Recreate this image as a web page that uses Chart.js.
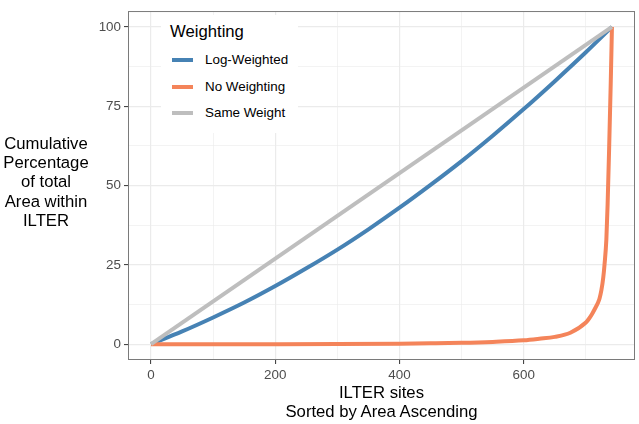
<!DOCTYPE html>
<html>
<head>
<meta charset="utf-8">
<script src="https://cdn.jsdelivr.net/npm/chart.js@4.4.0/dist/chart.umd.min.js"></script>
<style>
  body { margin: 0; background: #fff; }
  #wrap { position: relative; width: 639px; height: 424px; font-family: "Liberation Sans", Arial, sans-serif; }
  #ytitle { position: absolute; left: 0; top: 134px; width: 92px; text-align: center; font-size: 16.7px; line-height: 19.2px; color: #000; }
  #xtitle { position: absolute; left: 128px; top: 383px; width: 507px; text-align: center; font-size: 16.7px; line-height: 19px; color: #000; }
  #legend { position: absolute; left: 161px; top: 15px; width: 137px; height: 118px; background: #fff; }
  #legend .title { position: absolute; left: 9px; top: 7px; font-size: 16.7px; line-height: 20px; }
  #legend .item { position: absolute; left: 11px; height: 20px; font-size: 13.4px; line-height: 20px; }
  #legend .key { position: absolute; left: 0; top: 8px; width: 21px; height: 4px; }
  #legend .label { position: absolute; left: 33px; top: 0; white-space: nowrap; }
</style>
</head>
<body>
<div id="wrap">
  <canvas id="chart" width="639" height="424"></canvas>
  <div id="ytitle">Cumulative<br>Percentage<br>of total<br>Area within<br>ILTER</div>
  <div id="xtitle">ILTER sites<br>Sorted by Area Ascending</div>
  <div id="legend"></div>
</div>
<script>
// series values
const logX = [0, 50, 100, 150, 200, 250, 300, 350, 400, 450, 500, 550, 600, 650, 700, 742];
const logY = [0, 4.0, 8.4, 13.1, 18.3, 23.9, 29.8, 36.2, 43.0, 50.2, 57.7, 65.7, 74.1, 82.9, 92.0, 100];

const noX = [0, 100, 200, 300, 400, 450, 500, 550, 600, 625, 650, 675, 700, 705, 710, 715, 720, 722, 725, 728, 730, 733, 735, 737.5, 740, 742];
const noY = [0, 0, 0, 0.05, 0.15, 0.25, 0.4, 0.7, 1.2, 1.7, 2.3, 3.6, 6.8, 8.0, 9.5, 11.3, 13.3, 14.4, 17, 21, 25, 33, 44, 62, 82, 100];

const sameX = [0, 742];
const sameY = [0, 100];

const seriesNames = ['Log-Weighted', 'No Weighting', 'Same Weight'];
const seriesColors = ['#4682B4', '#F4845A', '#BEBEBE'];

// tick values
const xMajor = [0, 200, 400, 600];
const xMinor = [100, 300, 500, 700];
const yMajor = [0, 25, 50, 75, 100];
const yMinor = [12.5, 37.5, 62.5, 87.5];

function toPoints(xs, ys) {
    return xs.map((x, i) => ({ x: x, y: ys[i] }));
}

function axisOptions(major, minor, min, max) {
    const isMajor = ctx => ctx.tick && major.includes(ctx.tick.value);
    return {
        type: 'linear',
        min: min,
        max: max,
        afterBuildTicks: axis => {
            axis.ticks = major.concat(minor).sort((a, b) => a - b).map(v => ({ value: v }));
        },
        ticks: {
            autoSkip: false,
            maxRotation: 0,
            padding: 3,
            color: '#4D4D4D',
            font: { family: '"Liberation Sans", Arial, sans-serif', size: 13.4 },
            callback: v => major.includes(v) ? String(v) : ''
        },
        grid: {
            color: '#EBEBEB',
            lineWidth: ctx => isMajor(ctx) ? 1.2 : 0.6,
            tickColor: ctx => isMajor(ctx) ? '#333333' : 'rgba(0,0,0,0)',
            tickWidth: 1,
            tickLength: 4
        },
        border: { display: false }
    };
}

// ggplot-style panel border on top of the lines
const panelBorder = {
    id: 'panelBorder',
    afterDatasetsDraw(chart) {
        const { ctx, chartArea: a } = chart;
        ctx.save();
        ctx.strokeStyle = '#7A7A7A';
        ctx.lineWidth = 1;
        ctx.strokeRect(a.left + 0.5, a.top + 0.5, a.right - a.left - 1, a.bottom - a.top - 1);
        ctx.restore();
    }
};

const seriesPoints = [toPoints(logX, logY), toPoints(noX, noY), toPoints(sameX, sameY)];

const xScale = axisOptions(xMajor, xMinor, -37.1, 779.1);
xScale.afterFit = s => { s.height = 64; };
const yScale = axisOptions(yMajor, yMinor, -5, 105);
yScale.afterFit = s => { s.width = 128; };

new Chart(document.getElementById('chart').getContext('2d'), {
    type: 'line',
    data: {
        datasets: seriesPoints.map((pts, i) => ({
            label: seriesNames[i],
            data: pts,
            borderColor: seriesColors[i],
            backgroundColor: seriesColors[i],
            borderWidth: 4,
            pointRadius: 0,
            fill: false,
            cubicInterpolationMode: 'monotone',
            order: 3 - i
        }))
    },
    options: {
        responsive: false,
        animation: false,
        devicePixelRatio: 1,
        layout: { padding: { left: 0, right: 4, top: 3, bottom: 0 } },
        scales: { x: xScale, y: yScale },
        plugins: {
            legend: { display: false },
            tooltip: { enabled: false }
        }
    },
    plugins: [panelBorder]
});

// legend inside the panel
const legend = document.getElementById('legend');
legend.innerHTML = '<div class="title">Weighting</div>';
seriesNames.forEach((name, i) => {
    const item = document.createElement('div');
    item.className = 'item';
    item.style.top = (35 + i * 26.5) + 'px';
    item.innerHTML = `<div class="key" style="background:${seriesColors[i]}"></div><span class="label">${name}</span>`;
    legend.appendChild(item);
});
</script>
</body>
</html>
